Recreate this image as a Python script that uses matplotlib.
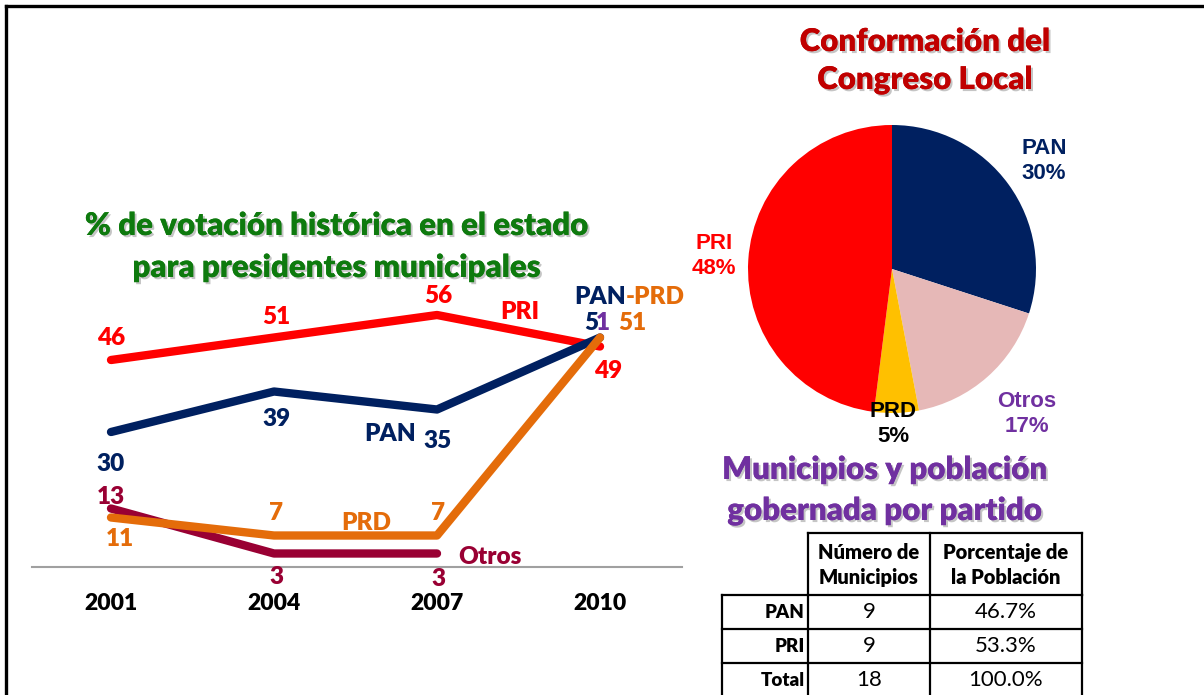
import matplotlib
matplotlib.use("Agg")
import matplotlib.pyplot as plt
import matplotlib.patheffects as pe
import numpy as np

# ---------------- data ----------------
years = [2001, 2004, 2007, 2010]
pri = [46, 51, 56, 49]
pan = [30, 39, 35, 51]
prd = [11, 7, 7, 51]
otros = [13, 3, 3, np.nan]

pie_labels = ["PAN", "Otros", "PRD", "PRI"]
pie_values = [30, 17, 5, 48]

table_header = ["Número de\nMunicipios", "Porcentaje de\nla Población"]
table_rows = ["PAN", "PRI", "Total"]
table_munis = ["9", "9", "18"]
table_pob = ["46.7%", "53.3%", "100.0%"]

# ---------------- style ----------------
C_PRI = "#ff0000"
C_PAN = "#002060"
C_PRD = "#e46c0a"
C_OTR = "#990033"
C_PUR = "#7030a0"
FONT = ["Lato", "DejaVu Sans"]
ARIAL = ["Liberation Sans", "DejaVu Sans"]
BW = 800  # bold weight

W, H = 1204, 695
fig = plt.figure(figsize=(W / 100, H / 100), dpi=100)
fig.patch.set_facecolor("white")


def px_rect(x0, y0, x1, y1):
    return [x0 / W, 1 - y1 / H, (x1 - x0) / W, (y1 - y0) / H]


# ---------------- line chart ----------------
ax = fig.add_axes(px_rect(32, 280, 682, 567))
x_left, x_right = 1999.546, 2011.509
ax.set_xlim(x_left, x_right)
ax.set_ylim(0, (567 - 280) / 4.5)
for s in ax.spines.values():
    s.set_visible(False)
ax.spines["bottom"].set_visible(True)
ax.spines["bottom"].set_color("#a0a0a0")
ax.spines["bottom"].set_linewidth(1.5)
ax.set_yticks([])
ax.set_xticks(years)
ax.set_xticklabels([str(y) for y in years], fontfamily=FONT, fontweight=BW,
                   fontsize=16.5, color="black")
ax.tick_params(axis="x", length=0, pad=19)
ax.patch.set_alpha(0)

lw = 6
ax.plot(years, pri, color=C_PRI, lw=lw, solid_capstyle="round", solid_joinstyle="round", zorder=3)
ax.plot(years, pan, color=C_PAN, lw=lw, solid_capstyle="round", solid_joinstyle="round", zorder=4)
ax.plot(years, otros, color=C_OTR, lw=lw, solid_capstyle="round", solid_joinstyle="round", zorder=5)
ax.plot(years, prd, color=C_PRD, lw=lw, solid_capstyle="round", solid_joinstyle="round", zorder=6)

LS = 17.5


def lab(x, y, txt, dx, dy, color):
    ax.annotate(txt, (x, y), xytext=(dx, dy), textcoords="offset pixels",
                ha="center", va="center", fontsize=LS, fontweight=BW,
                fontfamily=FONT, color=color, zorder=10)


pri_off = [(0, 22), (2, 21), (1, 19), (8, -24)]
pan_off = [(0, -32), (2, -28), (1, -31), None]
prd_off = [(9, -21), (2, 23), (1, 22), (32, 14)]
otr_off = [(0, 12), (2, -23), (1, -25), None]
for i, yr in enumerate(years):
    lab(yr, pri[i], str(pri[i]), *pri_off[i], C_PRI)
    if pan_off[i] is not None:
        lab(yr, pan[i], str(pan[i]), *pan_off[i], C_PAN)
    lab(yr, prd[i], str(prd[i]), *prd_off[i], C_PRD)
    if otr_off[i] is not None and not np.isnan(otros[i]):
        lab(yr, otros[i], str(int(otros[i])), *otr_off[i], C_OTR)
# PAN 2010 label: "5" navy, "1" purple
s = str(pan[3])
lab(years[3], pan[3], s[0], -9, 14, C_PAN)
lab(years[3], pan[3], s[1], 3, 14, C_PUR)

# ---------------- pie ----------------
pax = fig.add_axes(px_rect(748, 125, 1036, 413))
pax.pie(pie_values, colors=[C_PAN, "#e6b8b7", "#ffc000", C_PRI],
        startangle=90, counterclock=False,
        wedgeprops=dict(linewidth=0))
pax.set_xlim(-1, 1)
pax.set_ylim(-1, 1)
pax.set_aspect("equal")
pax.axis("off")

# ---------------- overlay ----------------
ov = fig.add_axes([0, 0, 1, 1])
ov.set_xlim(0, W)
ov.set_ylim(H, 0)
ov.axis("off")
ov.patch.set_alpha(0)

# border
ov.plot([6, W], [6, 6], color="black", lw=2.4, solid_capstyle="projecting")
ov.plot([6, 6], [6, H], color="black", lw=2.4, solid_capstyle="projecting")

shadow = [pe.withSimplePatchShadow(offset=(1.5, -1.5), shadow_rgbFace="#808080", alpha=0.45), pe.Normal()]


def title(x, y, txt, color, size=22.5):
    ov.text(x, y, txt, ha="center", va="center", fontsize=size, fontweight=BW,
            fontfamily=FONT, color=color, path_effects=shadow)


title(337, 226, "% de votación histórica en el estado", "#0e7a0e")
title(337, 268, "para presidentes municipales", "#0e7a0e")
title(925, 42, "Conformación del", "#c00000")
title(925, 80, "Congreso Local", "#c00000")
title(885, 470, "Municipios y población", C_PUR)
title(885, 511, "gobernada por partido", C_PUR)


def name(x, y, txt, color):
    ov.text(x, y, txt, ha="center", va="center", fontsize=LS, fontweight=BW,
            fontfamily=FONT, color=color)


name(520, 312, "PRI", C_PRI)
name(390, 434, "PAN", C_PAN)
name(366, 523, "PRD", C_PRD)
name(490, 557, "Otros", C_OTR)
ov.text(626, 297, "PAN", ha="right", va="center", fontsize=LS, fontweight=BW,
        fontfamily=FONT, color=C_PAN)
ov.text(626, 297, "-PRD", ha="left", va="center", fontsize=LS, fontweight=BW,
        fontfamily=FONT, color=C_PRD)

# pie labels
pie_pos = {"PAN": (1044, 161), "Otros": (1027, 414), "PRD": (893, 424), "PRI": (714, 256)}
pie_col = {"PAN": C_PAN, "Otros": C_PUR, "PRD": "black", "PRI": C_PRI}
for l, v in zip(pie_labels, pie_values):
    x, y = pie_pos[l]
    ov.text(x, y, f"{l}\n{v}%", ha="center", va="center", fontsize=16, fontweight="bold",
            fontfamily=ARIAL, color=pie_col[l], linespacing=1.2)

# table
cols = [722, 808, 930, 1082]
rows = [533, 595, 629, 663, 697]
tlw = 1.6
ov.plot([cols[1], cols[3]], [rows[0], rows[0]], color="black", lw=tlw)
for c in cols[1:]:
    ov.plot([c, c], [rows[0], rows[1]], color="black", lw=tlw)
ov.plot([cols[0], cols[3]], [rows[1], rows[1]], color="black", lw=tlw)
for r in rows[2:]:
    ov.plot([cols[0], cols[3]], [r, r], color="black", lw=tlw)
for c in cols:
    ov.plot([c, c], [rows[1], rows[-1]], color="black", lw=tlw)

for j, htxt in enumerate(table_header):
    ov.text((cols[j + 1] + cols[j + 2]) / 2, (rows[0] + rows[1]) / 2 + 1, htxt, ha="center",
            va="center", fontsize=14.5, fontweight=BW, fontfamily=FONT, linespacing=1.35)
for i, rname in enumerate(table_rows):
    yc = (rows[i + 1] + rows[i + 2]) / 2
    ov.text(cols[1] - 3, yc, rname, ha="right", va="center", fontsize=13.5,
            fontweight=BW, fontfamily=FONT)
    ov.text((cols[1] + cols[2]) / 2, yc, table_munis[i], ha="center", va="center",
            fontsize=16, fontfamily=FONT)
    ov.text((cols[2] + cols[3]) / 2, yc, table_pob[i], ha="center", va="center",
            fontsize=16, fontfamily=FONT)

fig.savefig("out.png", dpi=100)
